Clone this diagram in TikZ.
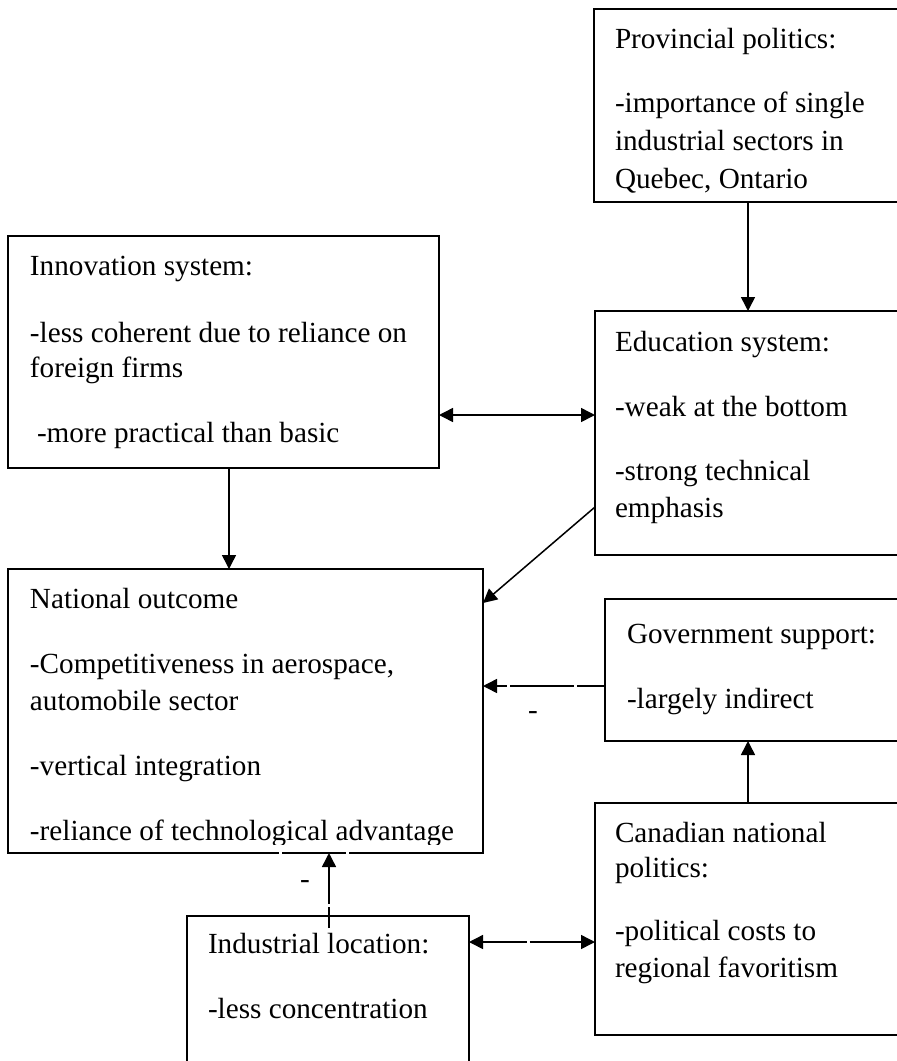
\documentclass[tikz,border=0pt]{standalone}
\usepackage{fontspec}
\setmainfont{Liberation Serif}
\usetikzlibrary{arrows.meta}
\begin{document}
\begin{tikzpicture}[x=1pt,y=-1pt,
  box/.style={draw,line width=1.6pt,rectangle,inner sep=0pt,outer sep=0pt,anchor=north west},
  txt/.style={anchor=base west,inner sep=0pt,outer sep=0pt,font=\fontsize{29.2}{35}\selectfont},
  conn/.style={line width=1.5pt,-{Triangle[length=14pt,width=14pt]}},
  biconn/.style={line width=1.5pt,{Triangle[length=14pt,width=14pt]}-{Triangle[length=14pt,width=14pt]}}]
\useasboundingbox (0,0) rectangle (897,1061);
\fill[white] (0,0) rectangle (897,1061);
\clip (0,0) rectangle (897,1061);

% boxes
\node[box,minimum width=330pt,minimum height=193pt] (prov) at (594,9) {};
\node[box,minimum width=431pt,minimum height=232pt] (innov) at (8,236) {};
\node[box,minimum width=330pt,minimum height=244pt] (educ) at (595,311) {};
\node[box,minimum width=475pt,minimum height=284pt] (natl) at (8,569) {};
\node[box,minimum width=320pt,minimum height=142pt] (gov) at (605,599) {};
\node[box,minimum width=330pt,minimum height=232pt] (canad) at (595,803) {};
\node[box,minimum width=282pt,minimum height=200pt] (indus) at (187,916) {};

% texts
\node[txt] (p1) at (615,48) {Provincial politics:};
\node[txt] (p2) at (615,112) {-importance of single};
\node[txt] (p3) at (615,150) {industrial sectors in};
\node[txt] (p4) at (615,188) {Quebec, Ontario};

\node[txt] (i1) at (30,275) {Innovation system:};
\node[txt] (i2) at (30,342) {-less coherent due to reliance on};
\node[txt] (i3) at (30,377) {foreign firms};
\node[txt] (i4) at (37,442) {-more practical than basic};

\node[txt] (e1) at (615,351) {Education system:};
\node[txt] (e2) at (615,416) {-weak at the bottom};
\node[txt] (e3) at (615,480) {-strong technical};
\node[txt] (e4) at (615,517) {emphasis};

\node[txt] (n1) at (30,608) {National outcome};
\node[txt] (n2) at (30,673) {-Competitiveness in aerospace,};
\node[txt] (n3) at (30,710) {automobile sector};
\node[txt] (n4) at (30,775) {-vertical integration};
\begin{scope}
\clip (0,0) rectangle (897,844);
\node[txt] (n5) at (30,840) {-reliance of technological advantage};
\end{scope}

\node[txt] (g1) at (627,643) {Government support:};
\node[txt] (g2) at (627,708) {-largely indirect};

\node[txt] (c1) at (615,842) {Canadian national};
\node[txt] (c2) at (615,877) {politics:};
\node[txt] (c3) at (615,940) {-political costs to};
\node[txt] (c4) at (615,977) {regional favoritism};

\node[txt] (d1) at (208,953) {Industrial location:};
\node[txt] (d2) at (208,1018) {-less concentration};

% small breaks in the national box bottom line
\fill[white] (278.5,850) rectangle (281.5,856);
\fill[white] (345.5,850) rectangle (348.5,856);

% connectors
\draw[conn] ([xshift=154pt]prov.south west) -- ([xshift=153pt]educ.north west);
\draw[biconn] ([yshift=-179pt]innov.north east) -- ([yshift=-104pt]educ.north west);
\draw[conn] ([xshift=221pt]innov.south west) -- ([xshift=221pt]natl.north west);
\draw[conn] ([yshift=-196pt]educ.north west) -- ([yshift=-34pt]natl.north east);
\draw[conn,dash pattern=on 28.5pt off 3pt on 64pt off 3pt on 400pt] ([yshift=-87pt]gov.north west) -- ([yshift=-117pt]natl.north east);
\draw[conn] ([xshift=153pt]canad.north west) -- ([xshift=143pt]gov.south west);
\draw[conn,dash pattern=on 21.5pt off 3pt on 400pt] ([xshift=142pt,yshift=-12pt]indus.north west) -- ([xshift=321pt]natl.south west);
\draw[biconn,dash pattern=on 44pt off 3pt on 400pt] ([yshift=-26pt]indus.north east) -- ([yshift=-139pt]canad.north west);

% minus labels
\node[txt,anchor=base] (m1) at (533,719) {-};
\node[txt,anchor=base] (m2) at (305,888) {-};
\end{tikzpicture}
\end{document}
